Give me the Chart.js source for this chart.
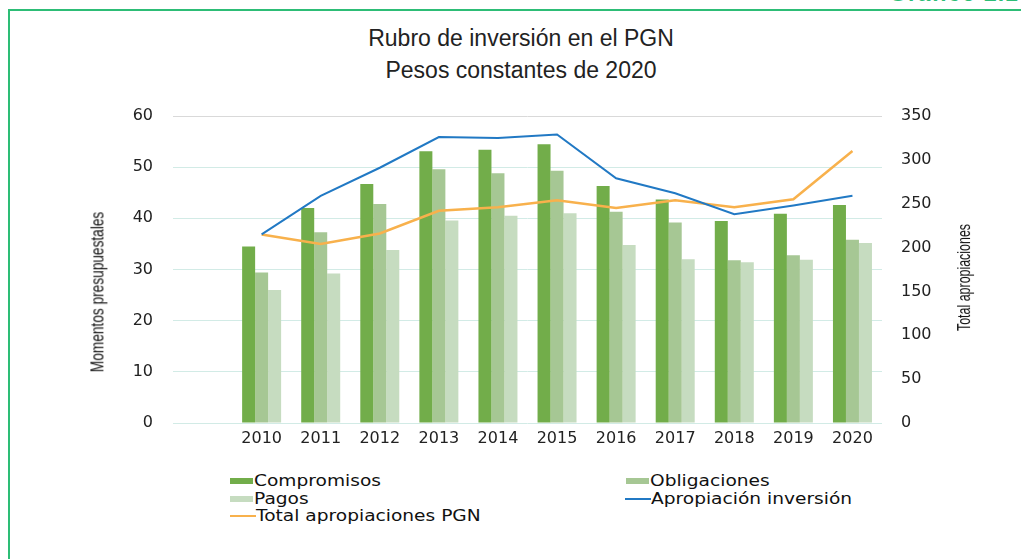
<!DOCTYPE html>
<html>
<head>
<meta charset="utf-8">
<script src="https://cdn.jsdelivr.net/npm/chart.js@4.4.1/dist/chart.umd.min.js"></script>
<style>
    html, body { margin: 0; padding: 0; background: #fff; }
    body { width: 1021px; height: 559px; position: relative; overflow: hidden; font-family: 'Liberation Sans', Arial, sans-serif; }
    .frame-top { position: absolute; left: 8px; top: 9px; width: 1013px; height: 2px; background: #2dbd76; }
    .frame-left { position: absolute; left: 8px; top: 9px; width: 2px; height: 550px; background: #2dbd76; }
    .corner-label { position: absolute; left: 889px; top: -20px; color: #2dbd76; font: bold 23px 'Liberation Sans', Arial, sans-serif; letter-spacing: 1px; white-space: nowrap; }
    .title { position: absolute; left: 0; width: 1042px; top: 22px; text-align: center; color: #222; font-size: 23px; line-height: 32px; }
    .chart-box { position: absolute; left: 0; top: 0; width: 1021px; height: 460px; }
    .axis-title { position: absolute; color: #111; white-space: nowrap; transform-origin: center center; }
    .legend { position: absolute; left: 0; top: 0; font-family: 'DejaVu Sans', sans-serif; font-size: 15px; color: #111; }
    .legend-item { position: absolute; white-space: nowrap; display: flex; align-items: center; height: 18px; }
    .sw { display: inline-block; }
    .lt { display: inline-block; transform: scaleX(1.24); transform-origin: left center; }
</style>
</head>
<body>
<div class="frame-top"></div>
<div class="frame-left"></div>
<div class="corner-label">Gráfico 2.1</div>
<div class="title">Rubro de inversión en el PGN<br>Pesos constantes de 2020</div>
<div class="chart-box"><canvas id="chart"></canvas></div>
<div class="axis-title" id="leftTitle" style="font-size:19px">Momentos presupuestales</div>
<div class="axis-title" id="rightTitle" style="font-size:18px">Total apropiaciones</div>
<div class="legend" id="legend"></div>
<script>
// leading empty category leaves the gap before 2010
const years = ['', '2010', '2011', '2012', '2013', '2014', '2015', '2016', '2017', '2018', '2019', '2020'];
const compromisos = [34.5, 42.0, 46.7, 53.1, 53.4, 54.5, 46.3, 43.7, 39.5, 40.9, 42.6];
const obligaciones = [29.4, 37.3, 42.8, 49.6, 48.8, 49.3, 41.3, 39.2, 31.8, 32.8, 35.8];
const pagos = [26.0, 29.2, 33.8, 39.6, 40.5, 41.0, 34.8, 32.0, 31.4, 31.9, 35.2];
const apropiacionInversion = [215, 259, 291, 326, 325, 329, 279, 262, 238, 248, 259];
const totalApropiacionesPGN = [215, 204, 216, 242, 246, 254, 245, 254, 246, 255, 310];
const leftTicks = [0, 10, 20, 30, 40, 50, 60];
const rightTicks = [0, 50, 100, 150, 200, 250, 300, 350];

const colors = {
    compromisos: '#72ad4a',
    obligaciones: '#a6c794',
    pagos: '#c6dcc0',
    inversion: '#2179c4',
    total: '#f8b14c'
};

const pad = arr => [null, ...arr];

const ctx = document.getElementById('chart').getContext('2d');
const tickFont = { family: "'DejaVu Sans', sans-serif", size: 16 };

new Chart(ctx, {
    data: {
        labels: years,
        datasets: [
            { type: 'line', label: 'Apropiación inversión', data: pad(apropiacionInversion), yAxisID: 'y1',
              borderColor: colors.inversion, borderWidth: 2, pointRadius: 0, tension: 0, order: 0 },
            { type: 'line', label: 'Total apropiaciones PGN', data: pad(totalApropiacionesPGN), yAxisID: 'y1',
              borderColor: colors.total, borderWidth: 2.5, pointRadius: 0, tension: 0, order: 0 },
            { type: 'bar', label: 'Compromisos', data: pad(compromisos), backgroundColor: colors.compromisos, yAxisID: 'y', order: 1 },
            { type: 'bar', label: 'Obligaciones', data: pad(obligaciones), backgroundColor: colors.obligaciones, yAxisID: 'y', order: 1 },
            { type: 'bar', label: 'Pagos', data: pad(pagos), backgroundColor: colors.pagos, yAxisID: 'y', order: 1 }
        ]
    },
    options: {
        responsive: true,
        maintainAspectRatio: false,
        animation: false,
        layout: { padding: { top: 116, left: 0, right: 0, bottom: 0 } },
        datasets: { bar: { barPercentage: 1, categoryPercentage: 0.66 } },
        plugins: { legend: { display: false }, tooltip: { enabled: false }, title: { display: false } },
        scales: {
            x: {
                grid: { display: false, drawTicks: false },
                border: { display: false },
                ticks: { color: '#222', font: tickFont, padding: 6, maxRotation: 0, autoSkip: false },
                afterFit: scale => { scale.height = 37; }
            },
            y: {
                position: 'left',
                min: 0, max: 60,
                afterBuildTicks: scale => { scale.ticks = leftTicks.map(v => ({ value: v })); },
                grid: { color: c => c.tick && c.tick.value === 60 ? '#d9d9d9' : '#d2ebe6', drawTicks: false, lineWidth: 1 },
                border: { display: false },
                ticks: { color: '#222', font: tickFont, padding: 20 },
                afterFit: scale => { scale.width = 173; }
            },
            y1: {
                position: 'right',
                min: 0, max: 350,
                afterBuildTicks: scale => { scale.ticks = rightTicks.map(v => ({ value: v })); },
                grid: { display: false, drawTicks: false },
                border: { display: false },
                ticks: { color: '#222', font: tickFont, padding: 19 },
                afterFit: scale => { scale.width = 139; }
            }
        }
    }
});

// rotated axis titles, both read bottom-to-top like the original
function placeTitle(id, cx, cy, sx) {
    const el = document.getElementById(id);
    const w = el.offsetWidth, h = el.offsetHeight;
    el.style.left = (cx - w / 2) + 'px';
    el.style.top = (cy - h / 2) + 'px';
    el.style.transform = `rotate(-90deg) scaleX(${sx})`;
}
placeTitle('leftTitle', 97, 292, 0.72);
placeTitle('rightTitle', 964, 277, 0.69);

const legendItems = [
    { text: 'Compromisos', color: colors.compromisos, kind: 'box', x: 230, y: 481 },
    { text: 'Obligaciones', color: colors.obligaciones, kind: 'box', x: 626, y: 481 },
    { text: 'Pagos', color: colors.pagos, kind: 'box', x: 230, y: 498.5 },
    { text: 'Apropiación inversión', color: colors.inversion, kind: 'line', x: 625, y: 498.5 },
    { text: 'Total apropiaciones PGN', color: colors.total, kind: 'line', x: 230, y: 516 }
];
const legend = document.getElementById('legend');
legendItems.forEach(item => {
    const div = document.createElement('div');
    div.className = 'legend-item';
    div.style.left = item.x + 'px';
    div.style.top = (item.y - 9) + 'px';
    const sw = document.createElement('span');
    sw.className = 'sw';
    sw.style.background = item.color;
    sw.style.width = item.kind === 'box' ? '23px' : '26px';
    sw.style.height = item.kind === 'box' ? '6px' : '2px';
    sw.style.marginRight = item.kind === 'box' ? '1px' : '0px';
    const txt = document.createElement('span');
    txt.className = 'lt';
    txt.textContent = item.text;
    div.appendChild(sw);
    div.appendChild(txt);
    legend.appendChild(div);
});
</script>
</body>
</html>
